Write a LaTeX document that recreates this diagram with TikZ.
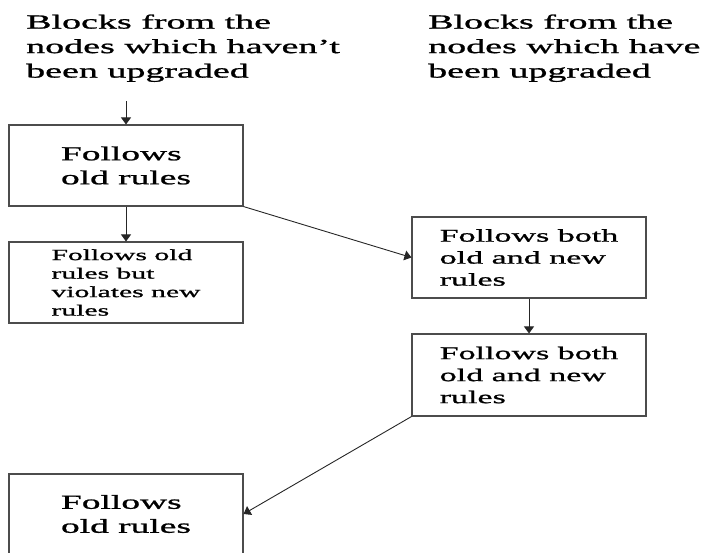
\documentclass[tikz,border=0pt]{standalone}
\usepackage{fontspec}
\setmainfont[FakeStretch=1.9,FakeBold=1.2]{Liberation Serif}
\usetikzlibrary{arrows.meta}
\begin{document}
\begin{tikzpicture}[x=1pt,y=-1pt,
  box/.style={draw=black!70,line width=1.1pt,minimum width=234pt,inner sep=0pt,align=left},
  head/.style={anchor=north west,inner sep=0pt,align=left,font=\fontsize{20}{24.5}\selectfont},
  big/.style={font=\fontsize{19.7}{24}\selectfont},
  mid/.style={font=\fontsize{17.9}{22}\selectfont},
  small/.style={font=\fontsize{15.6}{18.5}\selectfont},
  arr/.style={-{Triangle[length=7pt,width=10pt]},line width=0.9pt,black!85}]
\useasboundingbox (0,0) rectangle (708,552);
\clip (0,0) rectangle (708,552);
\node[head] (hl) at (26,14.3) {Blocks from the\\nodes which haven’t\\been upgraded};
\node[head] (hr) at (428,14.3) {Blocks from the\\nodes which have\\been upgraded};
\coordinate (start) at (126,101);
\node[box,big,minimum height=81pt] (b1) at (126,165.5) {Follows\\old rules};
\node[box,small,minimum height=81pt] (b2) at (126,282.5) {Follows old\\rules but\\violates new\\rules};
\node[box,mid,minimum height=81pt] (b3) at (529,257.5) {Follows both\\old and new\\rules};
\node[box,mid,minimum height=82pt] (b4) at (529,375) {Follows both\\old and new\\rules};
\node[box,big,minimum height=80pt] (b5) at (126,514) {Follows\\old rules};
\draw[arr] (start) -- (b1.north);
\draw[arr] (b1.south) -- (b2.north);
\draw[arr] (b1.south east) -- (b3.west);
\draw[arr] (b3.south) -- (b4.north);
\draw[arr] (b4.south west) -- (b5.east);
\end{tikzpicture}
\end{document}
